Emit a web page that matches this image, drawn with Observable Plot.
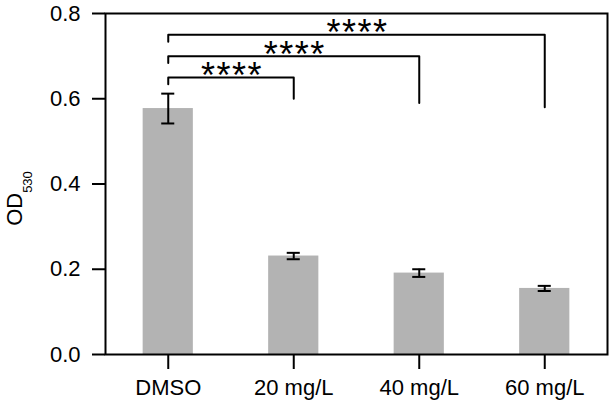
<!DOCTYPE html>
<html><head><meta charset="utf-8">
<script src="https://cdn.jsdelivr.net/npm/d3@7"></script>
<script src="https://cdn.jsdelivr.net/npm/@observablehq/plot@0.6"></script>
<style>body{margin:0;background:#fff} svg{display:block}</style>
</head><body><div id="chart"></div>
<script>
const categories = ["DMSO", "20 mg/L", "40 mg/L", "60 mg/L"];
const means = [0.577, 0.231, 0.191, 0.155];
const errors = [0.035, 0.0075, 0.009, 0.006];
const yTicks = [0, 0.2, 0.4, 0.6, 0.8];

const compFrom = ["DMSO", "DMSO", "DMSO"];
const compTo = ["20 mg/L", "40 mg/L", "60 mg/L"];
const compHeight = [0.65, 0.70, 0.75];
const compLegEnd = [0.60, 0.59, 0.58];
const compLabel = ["****", "****", "****"];

const legDrop = 0.016;
const barHalf = 0.2;
const capHalf = 0.052;

const bars = categories.map((c, i) => ({i, cat: c, mean: means[i], err: errors[i]}));
const caps = bars.flatMap(d => [{i: d.i, y: d.mean - d.err}, {i: d.i, y: d.mean + d.err}]);
const comps = compFrom.map((f, k) => ({
  k, a: categories.indexOf(f), b: categories.indexOf(compTo[k]),
  h: compHeight[k], end: compLegEnd[k], label: compLabel[k]
}));
const bracketPts = comps.flatMap(c => [
  {k: c.k, x: c.a, y: c.h - legDrop},
  {k: c.k, x: c.a, y: c.h},
  {k: c.k, x: c.b, y: c.h},
  {k: c.k, x: c.b, y: c.end}
]);

const font = "'Liberation Sans', Arial, sans-serif";

const chart = Plot.plot({
  width: 614,
  height: 406,
  marginLeft: 105,
  marginRight: 7,
  marginTop: 13,
  marginBottom: 52,
  style: {fontFamily: font, background: "#fff", color: "#000"},
  x: {type: "linear", domain: [-0.5, categories.length - 0.5], axis: null},
  y: {domain: [0, 0.8], axis: null},
  marks: [
    Plot.rectY(bars, {x1: d => d.i - barHalf, x2: d => d.i + barHalf, y: "mean", fill: "#b3b3b3"}),
    Plot.ruleX(bars, {x: "i", y1: d => d.mean - d.err, y2: d => d.mean + d.err, stroke: "#000", strokeWidth: 2}),
    Plot.ruleY(caps, {y: "y", x1: d => d.i - capHalf, x2: d => d.i + capHalf, stroke: "#000", strokeWidth: 2}),
    Plot.line(bracketPts, {x: "x", y: "y", z: "k", stroke: "#000", strokeWidth: 2, curve: "linear"}),
    Plot.text(comps, {x: d => (d.a + d.b) / 2, y: "h", text: "label", fontSize: 36, lineAnchor: "middle", fill: "#000", dx: 1, dy: -1}),
    Plot.axisX(categories.map((c, i) => i), {tickFormat: i => categories[i], tickSize: 15, tickPadding: 10, fontSize: 22, stroke: "#000", strokeWidth: 2, label: null}),
    Plot.axisY(yTicks, {tickFormat: d3.format(".1f"), tickSize: 13, tickPadding: 12, fontSize: 22, stroke: "#000", strokeWidth: 2, label: null}),
    Plot.frame({stroke: "#000", strokeWidth: 2})
  ]
});

const svg = d3.select(chart);
svg.selectAll("text").filter(function() { return this.textContent === "****"; })
  .style("letter-spacing", "1.5px");
const lab = svg.append("text")
  .attr("transform", "translate(22,198.5) rotate(-90)")
  .attr("text-anchor", "middle")
  .attr("font-family", font)
  .attr("font-size", 22)
  .attr("fill", "#000");
lab.append("tspan").text("OD");
lab.append("tspan").attr("font-size", 13).attr("dy", 9.5).text("530");

document.getElementById("chart").appendChild(chart);
</script>
</body></html>
